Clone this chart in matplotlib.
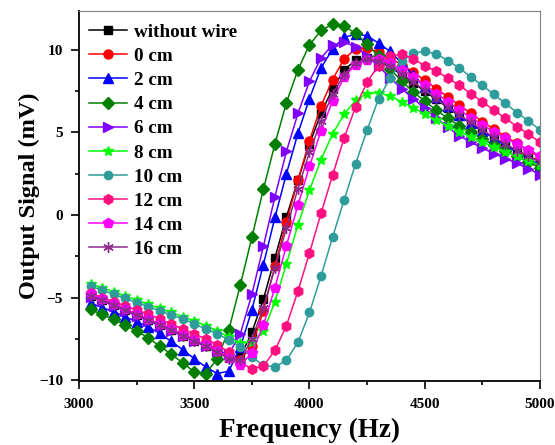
import matplotlib
matplotlib.use("Agg")
import matplotlib.pyplot as plt
from matplotlib.ticker import MultipleLocator

plt.rcParams['font.family'] = ['Liberation Serif', 'DejaVu Serif']
plt.rcParams['font.weight'] = 'bold'

# frequency grid (Hz)
freq = list(range(3050, 5001, 50))

without_wire = [-4.9, -5.15, -5.45, -5.75, -6.05, -6.35, -6.65, -6.95, -7.3, -7.6, -7.95, -8.3, -8.65, -8.6,
                -7.1, -5.1, -2.6, -0.1, 2.1, 4.3, 6.15, 7.65, 8.75, 9.4, 9.5,
                9.3, 8.95, 8.5, 8.0, 7.5, 7.0, 6.5, 6.0, 5.55, 5.1, 4.65, 4.25, 3.9, 3.55, 3.25]
cm0 = [-4.85, -5.1, -5.4, -5.7, -6.0, -6.3, -6.6, -6.9, -7.25, -7.55, -7.9, -8.25, -8.6, -8.75,
       -7.95, -5.8, -3.1, -0.4, 2.1, 4.5, 6.6, 8.2, 9.45, 10.05, 10.1,
       9.85, 9.5, 9.1, 8.65, 8.15, 7.65, 7.15, 6.65, 6.15, 5.65, 5.2, 4.75, 4.35, 3.9, 3.5]
cm2 = [-5.35, -5.6, -5.86, -6.16, -6.46, -6.77, -7.17, -7.65, -8.15, -8.7, -9.2, -9.6, -9.45, -8.0,
       -5.75, -3.0, -0.15, 2.5, 4.95, 7.05, 8.9, 10.05, 10.75, 10.95, 10.85,
       10.4, 9.9, 9.2, 8.45, 7.75, 7.15, 6.6, 6.05, 5.55, 5.1, 4.65, 4.2, 3.8, 3.4, 3.05]
cm4 = [-5.72, -6.02, -6.32, -6.67, -7.03, -7.43, -7.94, -8.42, -8.95, -9.5, -9.6, -8.7, -6.95, -4.24,
       -1.35, 1.56, 4.3, 6.8, 8.8, 10.3, 11.17, 11.55, 11.43, 11.0, 10.35,
       9.6, 8.85, 8.1, 7.45, 6.9, 6.35, 5.85, 5.4, 5.0, 4.6, 4.25, 3.9, 3.55, 3.2, 2.85]
cm6 = [-4.95, -5.2, -5.5, -5.8, -6.1, -6.4, -6.7, -7.0, -7.35, -7.65, -7.95, -8.25, -8.4, -7.2,
       -4.8, -1.9, 1.1, 3.85, 6.15, 8.1, 9.5, 10.3, 10.45, 10.2, 9.65,
       9.0, 8.3, 7.65, 7.05, 6.45, 5.9, 5.3, 4.8, 4.4, 4.05, 3.72, 3.42, 3.12, 2.8, 2.45]
cm8 = [-4.15, -4.4, -4.65, -4.9, -5.15, -5.4, -5.65, -5.9, -6.15, -6.4, -6.7, -7.0, -7.4, -7.75,
       -7.7, -7.05, -5.25, -2.95, -0.6, 1.5, 3.35, 4.9, 6.1, 6.95, 7.35,
       7.4, 7.2, 6.85, 6.5, 6.1, 5.75, 5.4, 5.05, 4.72, 4.42, 4.12, 3.83, 3.55, 3.27, 3.0]
cm10 = [-4.3, -4.55, -4.8, -5.05, -5.3, -5.55, -5.8, -6.05, -6.3, -6.6, -6.9, -7.2, -7.55, -8.0,
        -8.6, -9.1, -9.2, -8.8, -7.7, -5.9, -3.7, -1.35, 0.9, 3.1, 5.15,
        7.05, 8.3, 9.3, 9.8, 9.9, 9.75, 9.35, 8.9, 8.35, 7.85, 7.3, 6.75, 6.2, 5.7, 5.15]
cm12 = [-4.75, -5.0, -5.25, -5.5, -5.75, -6.0, -6.3, -6.6, -6.9, -7.2, -7.5, -7.85, -8.3, -8.95,
        -9.3, -9.15, -8.2, -6.7, -4.6, -2.3, 0.1, 2.4, 4.65, 6.55, 8.05,
        9.05, 9.6, 9.75, 9.45, 9.05, 8.7, 8.3, 7.85, 7.35, 6.85, 6.35, 5.85, 5.35, 4.9, 4.4]
cm14 = [-4.8, -5.1, -5.4, -5.7, -6.0, -6.3, -6.6, -6.9, -7.25, -7.55, -7.9, -8.25, -8.65, -9.1,
        -8.35, -6.67, -4.4, -1.85, 0.6, 2.95, 5.1, 6.9, 8.35, 9.1, 9.4,
        9.45, 9.2, 8.8, 8.35, 7.85, 7.35, 6.85, 6.35, 5.9, 5.45, 5.05, 4.65, 4.3, 3.95, 3.6]
cm16 = [-4.9, -5.15, -5.45, -5.75, -6.05, -6.35, -6.65, -6.95, -7.3, -7.6, -7.95, -8.3, -8.7, -8.8,
        -7.5, -5.6, -3.2, -0.8, 1.6, 3.8, 5.7, 7.3, 8.5, 9.2, 9.45,
        9.3, 9.0, 8.55, 8.05, 7.55, 7.05, 6.55, 6.05, 5.6, 5.15, 4.7, 4.3, 3.9, 3.55, 3.2]

labels = ['without wire', '0 cm', '2 cm', '4 cm', '6 cm', '8 cm', '10 cm', '12 cm', '14 cm', '16 cm']
series = [without_wire, cm0, cm2, cm4, cm6, cm8, cm10, cm12, cm14, cm16]
colors = ['#000000', '#ff0000', '#0000ff', '#007f00', '#7f00ff', '#00ff00', '#2f9c9c', '#ff1080', '#ff00ff', '#8b2a8b']
markers = ['s', 'o', '^', 'D', '>', '*', 'o', 'h', 'p', (6, 2, 0)]
sizes = [5.5, 6.5, 6.5, 6, 6.5, 7.5, 6, 7, 7, 7.5]

fig = plt.figure(figsize=(5.55, 4.45), dpi=100)
ax = fig.add_axes([0.1423, 0.1438, 0.8307, 0.8315])

for y, lab, c, m, s in zip(series, labels, colors, markers, sizes):
    ax.plot(freq, y, color=c, marker=m, markersize=s, linewidth=1.1,
            markeredgecolor=c, label=lab)

ax.set_xlim(3000, 5000)
ax.set_ylim(-10.05, 12.35)
ax.xaxis.set_major_locator(MultipleLocator(500))
ax.xaxis.set_minor_locator(MultipleLocator(250))
ax.yaxis.set_major_locator(MultipleLocator(5))
ax.yaxis.set_minor_locator(MultipleLocator(2.5))
ax.tick_params(which='both', direction='out', top=False, right=False, labelsize=11, width=1.2)
ax.tick_params(axis='x', pad=7)
ax.tick_params(axis='y', pad=6)
ax.tick_params(which='major', length=5.5)
ax.tick_params(which='minor', length=3)
for t in ax.get_xticklabels() + ax.get_yticklabels():
    t.set_fontweight('bold')

ax.spines['left'].set_linewidth(1.3)
ax.spines['bottom'].set_linewidth(1.3)
ax.spines['top'].set_color('#808080')
ax.spines['right'].set_color('#808080')

ax.set_xlabel('Frequency (Hz)', fontsize=19.5, fontweight='bold', labelpad=5)
ax.set_ylabel('Output Signal (mV)', fontsize=17.5, fontweight='bold')
ax.yaxis.set_label_coords(-0.085, 0.5)

leg = ax.legend(loc='upper left', bbox_to_anchor=(0.005, 0.987), frameon=False,
                handlelength=2.0, labelspacing=0.35, handletextpad=0.35,
                borderaxespad=0.0, prop={'weight': 'bold', 'size': 13.8})

fig.savefig('out.png', dpi=100)
